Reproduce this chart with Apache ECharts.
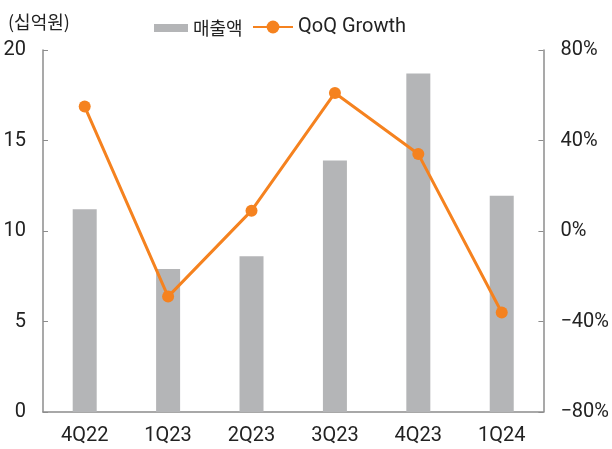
<!DOCTYPE html>
<html>
<head>
<meta charset="utf-8">
<script src="https://cdn.jsdelivr.net/npm/echarts@6/dist/echarts.min.js"></script>
<style>
  html, body { margin: 0; padding: 0; background: #fff; }
  #main { width: 612px; height: 449px; }
</style>
</head>
<body>
<div id="main"></div>
<script>
var categories = ['4Q22', '1Q23', '2Q23', '3Q23', '4Q23', '1Q24'];
var sales = [11.2, 7.9, 8.6, 13.9, 18.7, 11.95];
var qoqGrowth = [55, -29, 9, 61, 34, -36];

var font = 'Roboto, "Noto Sans CJK KR", sans-serif';
var krFont = '"Noto Sans CJK KR", sans-serif';
var axisColor = '#8c8c8c';

var chart = echarts.init(document.getElementById('main'));
chart.setOption({
    animation: false,
    backgroundColor: '#fff',
    textStyle: { fontFamily: font },
    grid: { left: 43, right: 68, top: 50, bottom: 37 },
    title: {
        text: '(십억원)',
        left: 3,
        top: 8,
        textStyle: { fontSize: 18, fontWeight: 'normal', color: '#222', fontFamily: krFont }
    },
    legend: [
        {
            top: 14,
            left: 149,
            itemWidth: 34,
            itemHeight: 8,
            itemGap: 4,
            textStyle: { fontSize: 18, color: '#222', fontFamily: krFont },
            data: [{ name: '매출액', icon: 'rect' }]
        },
        {
            top: 12,
            left: 247,
            itemWidth: 40,
            itemHeight: 16,
            itemGap: 4,
            textStyle: { fontSize: 20, color: '#222', fontFamily: font },
            data: ['QoQ Growth']
        }
    ],
    xAxis: {
        type: 'category',
        data: categories,
        axisLine: { lineStyle: { color: axisColor, width: 1.5 } },
        axisTick: { inside: true, length: 5, lineStyle: { color: axisColor } },
        axisLabel: { fontSize: 20, color: '#222', margin: 14 }
    },
    yAxis: [
        {
            type: 'value',
            min: 0, max: 20, interval: 5,
            splitLine: { show: false },
            axisLine: { show: true, lineStyle: { color: axisColor, width: 1.5 } },
            axisTick: { show: true, inside: true, length: 5, lineStyle: { color: axisColor } },
            axisLabel: { fontSize: 20, color: '#222', margin: 17 }
        },
        {
            type: 'value',
            min: -80, max: 80, interval: 40,
            splitLine: { show: false },
            axisLine: { show: true, lineStyle: { color: axisColor, width: 1.5 } },
            axisTick: { show: true, inside: true, length: 5, lineStyle: { color: axisColor } },
            axisLabel: {
                fontSize: 20, color: '#222', margin: 17,
                formatter: function (v) { return (v < 0 ? '\u2212' + Math.abs(v) : v) + '%'; }
            }
        }
    ],
    series: [
        {
            name: '매출액',
            type: 'bar',
            data: sales,
            barWidth: 24,
            itemStyle: { color: '#b4b5b7' }
        },
        {
            name: 'QoQ Growth',
            type: 'line',
            yAxisIndex: 1,
            data: qoqGrowth,
            symbol: 'circle',
            symbolSize: 12,
            lineStyle: { color: '#f5821f', width: 3 },
            itemStyle: { color: '#f5821f' }
        }
    ]
});
</script>
</body>
</html>
